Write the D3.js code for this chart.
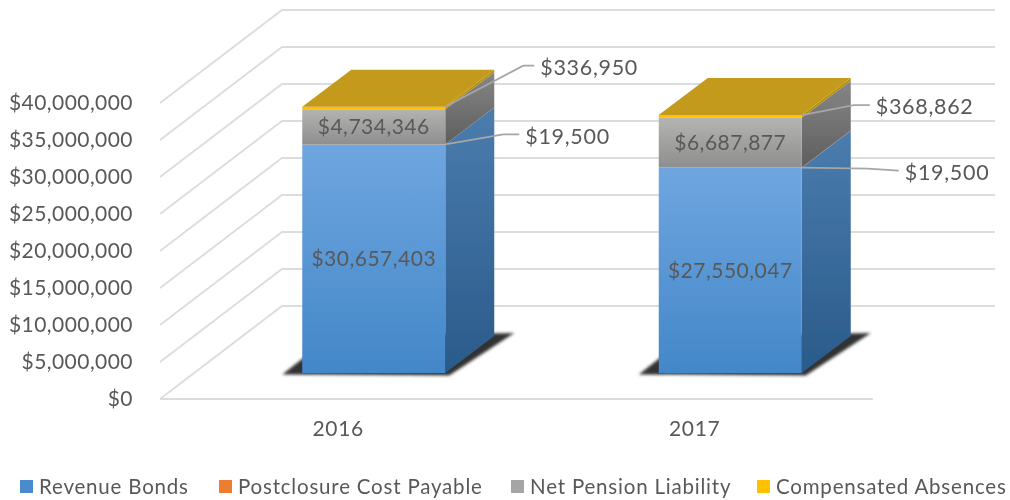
<!DOCTYPE html>
<html lang="en">
  <head>
    <meta charset="UTF-8" />
    <title>Long-term liabilities</title>
    <script src="https://d3js.org/d3.v7.min.js"></script>
    <style>
      html,
      body {
        margin: 0;
        background: #fff;
      }

      svg {
        display: block;
      }

      text {
        font-family: Lato, "Open Sans", sans-serif;
        fill: #595959;
      }

      .domain {
        display: none;
      }
    </style>
  </head>
  <body>
    <svg id="chart" width="1010" height="500"></svg>

    <script>
      const years = ["2016", "2017"];
      const seriesNames = [
        "Revenue Bonds",
        "Postclosure Cost Payable",
        "Net Pension Liability",
        "Compensated Absences",
      ];
      const revenueBonds = [30657403, 27550047];
      const postclosure = [19500, 19500];
      const netPension = [4734346, 6687877];
      const compensated = [336950, 368862];
      const seriesValues = [revenueBonds, postclosure, netPension, compensated];
      const yTicks = [0, 5e6, 1e7, 1.5e7, 2e7, 2.5e7, 3e7, 3.5e7, 4e7];

      // colours per series: legend, front top/bottom, side top/bottom
      const seriesColors = [
        ["#4a8bcd", "#6fa6e0", "#4387c8", "#4a7dae", "#2a5a8a"],
        ["#ed7d31", "#ed7d31", "#ed7d31", "#ae5a22", "#ae5a22"],
        ["#a5a5a5", "#b4b4b2", "#8e8e8e", "#868686", "#5e5e5e"],
        ["#ffc000", "#ffc000", "#ffc000", "#b8900c", "#b8900c"],
      ];
      const topColor = "#c49a1a";

      // callout layout, [elbow dx, elbow dy, end dx, end dy] from the bar's right edge
      const outerCallouts = [
        [78, -41, 89, -41],
        [52, -10, 68, -10],
      ];
      const innerCallouts = [
        [58, -10, 74, -10],
        [66, 1, 97, 3],
      ];

      const svg = d3.select("#chart");
      const defs = svg.append("defs");

      defs
        .append("filter")
        .attr("id", "soft")
        .append("feGaussianBlur")
        .attr("stdDeviation", 0.45);
      defs
        .append("filter")
        .attr("id", "shadow")
        .attr("x", "-20%")
        .attr("y", "-20%")
        .attr("width", "140%")
        .attr("height", "140%")
        .append("feGaussianBlur")
        .attr("stdDeviation", 1.8);

      function addGradient(id, top, bottom) {
        const g = defs
          .append("linearGradient")
          .attr("id", id)
          .attr("x1", 0)
          .attr("y1", 0)
          .attr("x2", 0)
          .attr("y2", 1);
        g.append("stop").attr("offset", 0).attr("stop-color", top);
        g.append("stop").attr("offset", 1).attr("stop-color", bottom);
      }
      seriesColors.forEach((c, i) => {
        addGradient(`front${i}`, c[1], c[2]);
        addGradient(`side${i}`, c[3], c[4]);
      });

      const root = svg.append("g").attr("filter", "url(#soft)");

      // front plane scales
      const x = d3.scaleBand().domain(years).range([160, 873]);
      const y = d3.scaleLinear().domain([0, 4e7]).range([399, 103]);
      // bars stand further back on the floor, so they get their own baseline
      const barY = d3.scaleLinear().domain([0, 4e7]).range([373, 75]);

      const wallDx = 122;
      const wallDy = -93;
      const barDx = 49;
      const barDy = -37;
      const barWidth = 143;
      const barInset = 35.5;

      const line = d3.line();

      // gridlines: along the side wall, then across the back
      root
        .append("g")
        .selectAll("path")
        .data(yTicks)
        .join("path")
        .attr("fill", "none")
        .attr("stroke", "#dcdcdc")
        .attr("stroke-width", 1.8)
        .attr("d", (d) =>
          line([
            [x.range()[0], y(d)],
            [x.range()[0] + wallDx, y(d) + wallDy],
            [x.range()[1] + wallDx, y(d) + wallDy],
          ])
        );

      root
        .append("line")
        .attr("x1", x.range()[0])
        .attr("x2", x.range()[1])
        .attr("y1", y(0))
        .attr("y2", y(0))
        .attr("stroke", "#dcdcdc")
        .attr("stroke-width", 1.8);

      // axes
      const yAxis = root
        .append("g")
        .attr("transform", "translate(137,0)")
        .call(
          d3
            .axisLeft(y)
            .tickValues(yTicks)
            .tickSize(0)
            .tickPadding(4)
            .tickFormat(d3.format("$,"))
        );
      yAxis.selectAll("text").attr("font-size", 21).attr("letter-spacing", 0.45);

      const xAxis = root
        .append("g")
        .attr("transform", `translate(0,${y(0)})`)
        .call(d3.axisBottom(x).tickSize(0).tickPadding(22));
      xAxis.selectAll("text").attr("font-size", 21).attr("letter-spacing", 0.7);

      // bars
      years.forEach((year, i) => {
        const left = x(year) + x.bandwidth() / 2 - barWidth / 2 + barInset;
        const right = left + barWidth;
        const g = root.append("g");

        g.append("path")
          .attr("filter", "url(#shadow)")
          .attr("fill", "#333")
          .attr(
            "d",
            line([
              [left - 20, barY(0) + 1.5],
              [right + 4, barY(0) + 2.5],
              [right + barDx + 20, barY(0) + barDy - 3],
              [left + barDx - 20, barY(0) + barDy],
            ]) + "Z"
          );

        let base = 0;
        seriesValues.forEach((values, s) => {
          const from = base;
          const to = base + values[i];
          base = to;

          g.append("path")
            .attr("fill", `url(#side${s})`)
            .attr(
              "d",
              line([
                [right, barY(from)],
                [right + barDx, barY(from) + barDy],
                [right + barDx, barY(to) + barDy],
                [right, barY(to)],
              ]) + "Z"
            );
          g.append("rect")
            .attr("x", left)
            .attr("width", barWidth)
            .attr("y", barY(to))
            .attr("height", barY(from) - barY(to))
            .attr("fill", `url(#front${s})`);
        });

        g.append("path")
          .attr("fill", topColor)
          .attr(
            "d",
            line([
              [left, barY(base)],
              [right, barY(base)],
              [right + barDx, barY(base) + barDy],
              [left + barDx, barY(base) + barDy],
            ]) + "Z"
          );

        // labels inside the bar
        [0, 2].forEach((s) => {
          const start = d3.sum(seriesValues.slice(0, s), (v) => v[i]);
          g.append("text")
            .attr("x", (left + right) / 2)
            .attr("y", barY(start + seriesValues[s][i] / 2))
            .attr("dy", "0.35em")
            .attr("text-anchor", "middle")
            .attr("font-size", 21)
            .attr("letter-spacing", 0.5)
            .text(d3.format("$,")(seriesValues[s][i]));
        });

        // callouts for the two thin series
        [
          [1, innerCallouts[i]],
          [3, outerCallouts[i]],
        ].forEach(([s, c]) => {
          const top = d3.sum(seriesValues.slice(0, s + 1), (v) => v[i]);
          const py = barY(top);
          g.append("path")
            .attr("fill", "none")
            .attr("stroke", "#a6a6a6")
            .attr("stroke-width", 1.8)
            .attr(
              "d",
              line([
                [right, py],
                [right + c[0], py + c[1]],
                [right + c[2], py + c[3]],
              ])
            );
          g.append("text")
            .attr("x", right + c[2] + 6)
            .attr("y", py + c[3])
            .attr("dy", "0.43em")
            .attr("font-size", 21.5)
            .attr("letter-spacing", 0.7)
            .text(d3.format("$,")(seriesValues[s][i]));
        });
      });

      // legend
      const legendSwatchX = [20, 219, 511, 757];
      const legend = root
        .append("g")
        .selectAll("g")
        .data(seriesNames)
        .join("g")
        .attr("transform", (d, i) => `translate(${legendSwatchX[i]},480)`);
      legend
        .append("rect")
        .attr("width", 13)
        .attr("height", 13)
        .attr("fill", (d, i) => seriesColors[i][0]);
      legend
        .append("text")
        .attr("x", 19)
        .attr("y", 6.5)
        .attr("dy", "0.35em")
        .attr("font-size", 20.5)
        .attr("letter-spacing", 0.8)
        .text((d) => d);
    </script>
  </body>
</html>
